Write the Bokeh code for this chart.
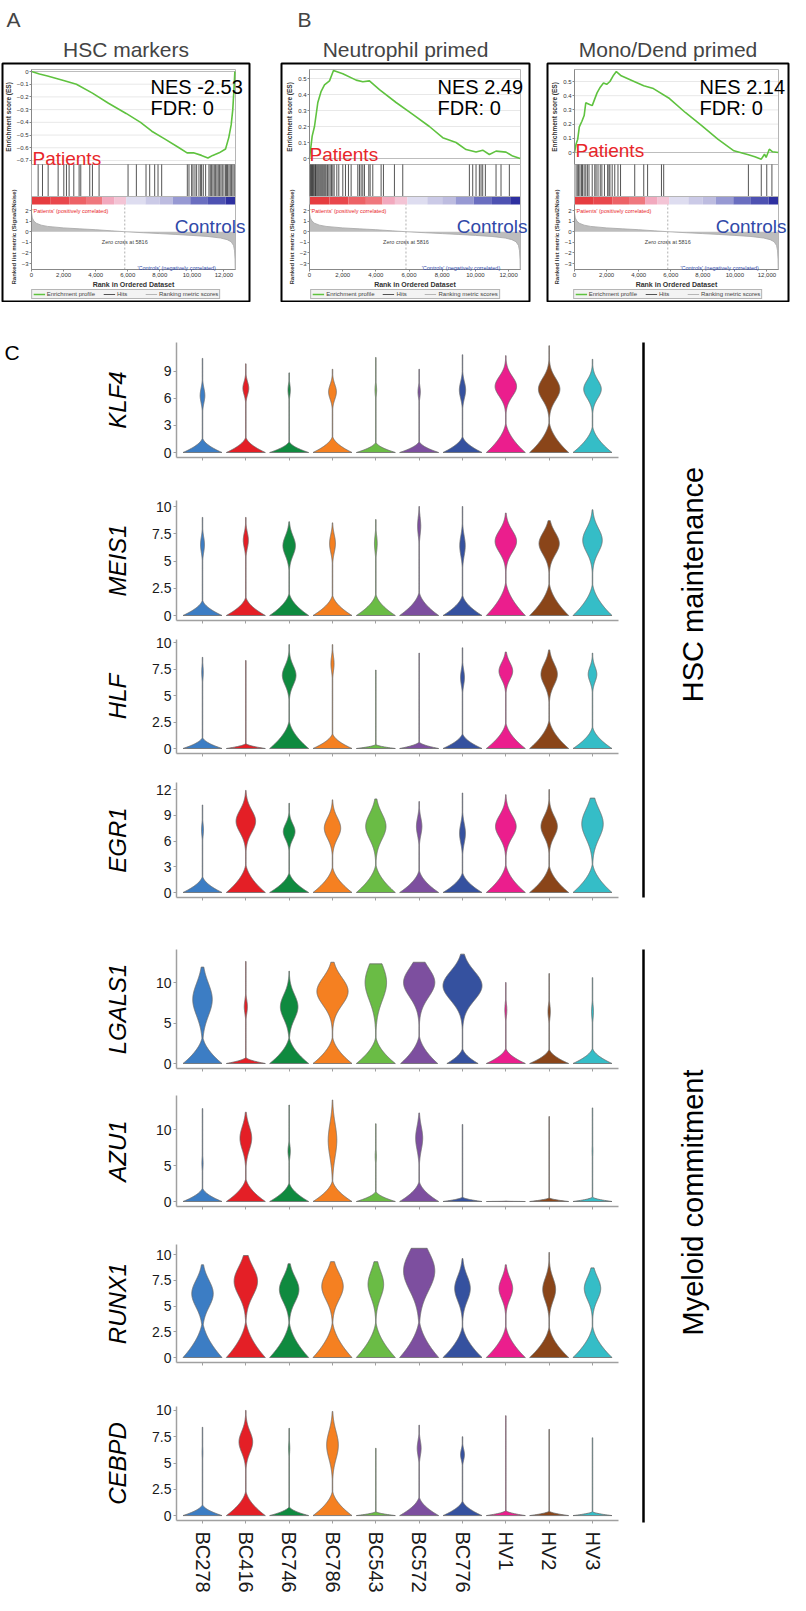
import numpy as np
from math import pi
from bokeh.plotting import figure
from bokeh.layouts import column, row
from bokeh.models import (Range1d, Label, Title, FixedTicker, NumeralTickFormatter,
                          LinearAxis, Legend, LegendItem, Spacer)
from bokeh.embed import file_html
from bokeh.resources import INLINE
from bokeh.core.properties import value

FONT = "Liberation Sans"

# ======================= DATA: GSEA =======================
RANK_MAX = 12720
ZERO_CROSS = 5816
METRIC_RANK = [0, 50, 150, 300, 600, 1000, 2000, 3000, 4000, 5000, 5816, 7000, 8000,
               9000, 10000, 11000, 11800, 12200, 12450, 12600, 12660, 12690, 12700]
METRIC_VAL = [1.8, 1.3, 1.0, 0.8, 0.62, 0.5, 0.36, 0.27, 0.19, 0.08, 0.0, -0.1, -0.18,
              -0.26, -0.35, -0.45, -0.6, -0.75, -0.95, -1.3, -1.8, -2.6, -3.5]
CB_EDGES = [0, 1200, 2350, 3400, 4400, 5150, 5900, 7100, 8000, 8800, 9900, 11000, 12100, 12700]
CB_COLORS = ["#E63C3F", "#E9474C", "#ED6266", "#EF787E", "#F2A9BE", "#F3C4D5", "#DEDDF0",
             "#CBCAE7", "#BDBCE0", "#9799D3", "#6A6EC0", "#4E52B2", "#2E30A0"]

GSEA_TITLES = ["HSC markers", "Neutrophil primed", "Mono/Dend primed"]
GSEA_LETTERS = ["A", "B", None]
GSEA_NES = ["-2.53", "2.49", "2.14"]
GSEA_FDR = ["0", "0", "0"]

ES_A_RANK = [0, 500, 1000, 2000, 2800, 3800, 4800, 5900, 6800, 7500, 8300, 9200, 9700, 10100,
             10600, 11000, 11300, 11700, 12100, 12300, 12450, 12550, 12620, 12680]
ES_A = [0.0, -0.02, -0.035, -0.07, -0.1, -0.17, -0.25, -0.33, -0.4, -0.47, -0.53, -0.6, -0.64,
        -0.64, -0.66, -0.68, -0.66, -0.64, -0.61, -0.52, -0.42, -0.3, -0.15, 0.0]
HITS_A = [415, 685, 1038, 1661, 2014, 2180, 2346, 2637, 2969, 3072, 3633, 3799, 4214, 6020, 6539,
          7141, 7370, 7681, 7889, 8117, 9716, 9819, 9986, 10069, 10193, 10297, 10442, 10546,
          10608, 10712, 10858, 11065, 11148, 11231, 11314, 11397, 11480, 11563, 11646, 11729,
          11812, 11896, 11999, 12103, 12165, 12227, 12311, 12394, 12477, 12560, 12643]

ES_B_RANK = [0, 161, 301, 502, 703, 904, 1205, 1446, 2008, 2811, 3213, 3614, 4217, 5221, 6225,
             7229, 8032, 8835, 9438, 10040, 10442, 10843, 11245, 11847, 12249, 12700]
ES_B = [0.0, 0.14, 0.2, 0.35, 0.42, 0.46, 0.485, 0.55, 0.53, 0.49, 0.48, 0.485, 0.43, 0.35,
        0.276, 0.2, 0.13, 0.1, 0.056, 0.04, 0.052, 0.025, 0.046, 0.04, 0.015, 0.0]
HITS_B = [40, 80, 120, 181, 221, 261, 321, 361, 402, 462, 522, 582, 643, 703, 763, 823, 884, 944,
          1004, 1084, 1165, 1245, 1325, 1406, 1486, 1647, 1767, 2008, 2169, 2349, 2510, 2912,
          3012, 3112, 3213, 3313, 3574, 3655, 3815, 4317, 4458, 5120, 5622, 9638, 9839, 10040,
          10241, 10341, 10442, 10602, 11245, 11546, 12048]

ES_C_RANK = [0, 100, 201, 301, 462, 602, 703, 904, 1104, 1205, 1406, 1606, 1807, 2008, 2209,
             2410, 2610, 2912, 3715, 4317, 4920, 5924, 6928, 7932, 8936, 9940, 10843, 11245,
             11646, 11847, 11948, 12148, 12349, 12700]
ES_C = [0.0, 0.06, 0.094, 0.18, 0.22, 0.26, 0.35, 0.34, 0.33, 0.36, 0.42, 0.46, 0.49, 0.48, 0.5,
        0.54, 0.57, 0.54, 0.5, 0.47, 0.45, 0.38, 0.28, 0.19, 0.094, 0.012, -0.016, -0.03,
        -0.047, -0.012, -0.035, 0.023, 0.005, 0.0]
HITS_C = [100, 201, 261, 341, 442, 502, 602, 703, 803, 904, 1104, 1265, 1345, 1466, 1606, 1707,
          1867, 2068, 2149, 2209, 2349, 2510, 2711, 2871, 3755, 4317, 4558, 5422, 5562, 10843,
          11646, 11988, 12309]

# ======================= DATA: violins =======================
SAMPLES = ["BC278", "BC416", "BC746", "BC786", "BC543", "BC572", "BC776", "HV1", "HV2", "HV3"]
SAMPLE_COLORS = ["#3C7DC4", "#E41F26", "#0F8A3F", "#F58021", "#6ABC45", "#7D4F9F", "#35519F",
                 "#EB1E8D", "#8A4519", "#35BDC7"]
GENES = ["KLF4", "MEIS1", "HLF", "EGR1", "LGALS1", "AZU1", "RUNX1", "CEBPD"]
GENE_TICKS = [[0, 3, 6, 9], [0, 2.5, 5, 7.5, 10], [0, 2.5, 5, 7.5, 10], [0, 3, 6, 9, 12],
              [0, 5, 10], [0, 5, 10], [0, 2.5, 5, 7.5, 10], [0, 2.5, 5, 7.5, 10]]
# maximum expression (violin tip)
VMAX = [
    [10.4, 9.8, 8.8, 9.2, 10.5, 9.2, 10.8, 10.7, 11.8, 10.3],
    [9.0, 9.0, 8.6, 8.5, 8.8, 10.0, 10.0, 9.4, 8.7, 9.7],
    [8.6, 8.3, 9.8, 9.8, 7.4, 9.0, 9.5, 9.1, 9.3, 9.0],
    [10.2, 11.9, 10.4, 10.8, 10.9, 10.6, 11.6, 11.4, 12.0, 11.0],
    [11.9, 12.6, 11.4, 12.5, 12.3, 12.5, 13.5, 10.0, 11.1, 10.6],
    [12.9, 12.4, 13.4, 14.1, 10.8, 12.3, 10.7, 0.05, 11.8, 13.0],
    [9.0, 9.9, 9.1, 9.3, 9.3, 10.6, 9.6, 9.0, 10.2, 8.7],
    [8.4, 10.0, 8.3, 9.9, 6.4, 8.6, 7.5, 9.5, 8.2, 7.4],
]
# relative width of the zero bulb
LOW_W = [
    [1.0] * 10, [1.0] * 10, [1.0] * 10, [1.0] * 10,
    [1.0, 1.0, 1.0, 1.0, 1.0, 0.95, 0.8, 1.0, 1.0, 1.0],
    [1.0] * 10, [1.0] * 10, [1.0] * 10,
]
# height of the zero bulb
LOW_H = [
    [1.7, 1.8, 1.3, 1.9, 1.2, 1.3, 1.9, 3.5, 3.6, 3.1],
    [1.5, 1.8, 2.2, 2.0, 2.1, 2.3, 2.0, 3.3, 3.2, 3.1],
    [1.1, 0.5, 2.8, 1.5, 0.4, 0.65, 1.5, 2.6, 2.9, 2.2],
    [2.0, 3.5, 2.5, 3.2, 3.5, 2.8, 2.5, 3.5, 3.4, 3.6],
    [3.6, 0.8, 3.5, 3.5, 3.5, 3.7, 2.0, 2.0, 1.9, 2.0],
    [2.0, 3.4, 2.8, 3.1, 1.5, 3.0, 0.65, 0.04, 0.55, 0.65],
    [3.8, 3.8, 3.7, 3.7, 3.7, 3.9, 3.3, 3.3, 3.2, 3.3],
    [1.1, 2.5, 0.9, 2.5, 0.4, 1.9, 1.5, 0.5, 0.45, 0.4],
]
# centre of the expressing mode
UP_M = [
    [6.3, 7.1, 6.9, 6.7, 6.9, 6.7, 6.9, 7.3, 7.0, 7.0],
    [6.5, 6.9, 6.4, 6.6, 6.6, 8.2, 6.4, 6.8, 6.6, 6.9],
    [7.2, 0.0, 6.9, 8.0, 0.0, 0.0, 6.7, 7.3, 7.0, 7.0],
    [7.3, 8.3, 7.1, 7.5, 7.7, 7.7, 6.9, 7.7, 7.7, 8.0],
    [7.9, 7.0, 7.0, 8.9, 10.0, 10.0, 9.6, 6.6, 6.4, 6.4],
    [5.3, 8.8, 7.0, 8.5, 6.3, 8.8, 0.0, 0.0, 0.0, 7.0],
    [6.2, 7.4, 6.6, 6.9, 7.1, 8.4, 6.7, 6.7, 6.6, 6.7],
    [6.0, 7.0, 6.4, 6.7, 0.0, 6.4, 5.8, 0.0, 0.0, 0.0],
]
# relative width of the expressing mode
UP_W = [
    [0.12, 0.15, 0.06, 0.2, 0.04, 0.06, 0.16, 0.55, 0.55, 0.45],
    [0.1, 0.13, 0.32, 0.15, 0.07, 0.08, 0.14, 0.55, 0.52, 0.5],
    [0.04, 0.0, 0.35, 0.08, 0.0, 0.0, 0.1, 0.35, 0.42, 0.22],
    [0.05, 0.5, 0.3, 0.42, 0.52, 0.14, 0.15, 0.53, 0.42, 0.55],
    [0.5, 0.08, 0.45, 0.8, 0.55, 0.8, 1.0, 0.05, 0.06, 0.05],
    [0.03, 0.3, 0.06, 0.22, 0.03, 0.18, 0.0, 0.0, 0.0, 0.02],
    [0.55, 0.6, 0.5, 0.55, 0.4, 0.8, 0.4, 0.35, 0.33, 0.42],
    [0.02, 0.35, 0.03, 0.3, 0.0, 0.1, 0.1, 0.0, 0.0, 0.0],
]
# spread of the expressing mode
UP_S = [
    [0.8, 0.7, 0.6, 0.8, 0.6, 0.6, 0.9, 1.1, 1.2, 1.0],
    [0.7, 0.7, 0.9, 0.8, 0.7, 0.8, 0.9, 1.0, 1.0, 1.1],
    [0.6, 0.5, 0.9, 0.7, 0.5, 0.5, 0.7, 0.8, 1.0, 0.7],
    [0.7, 1.3, 0.9, 1.2, 1.5, 1.0, 1.1, 1.3, 1.2, 1.7],
    [2.0, 0.8, 1.5, 1.7, 2.2, 1.8, 1.8, 0.8, 0.8, 0.8],
    [0.8, 1.6, 0.8, 2.3, 0.8, 1.6, 0.5, 0.5, 0.5, 0.8],
    [1.3, 1.4, 1.2, 1.3, 1.3, 1.9, 1.2, 1.0, 1.1, 1.1],
    [0.6, 1.0, 0.6, 1.3, 0.5, 0.7, 0.5, 0.5, 0.5, 0.5],
]
GROUPS = ["HSC maintenance", "Myeloid commitment"]

# ======================= helpers =======================
def blank(w, h, xr, yr, bg="white"):
    p = figure(width=w, height=h, x_range=xr, y_range=yr, toolbar_location=None,
               output_backend="svg", x_axis_location=None, y_axis_location=None,
               min_border=0, outline_line_color=None,
               background_fill_color=bg, border_fill_color=bg)
    p.grid.visible = False
    return p


def txt(x, y, s, size, color="black", align="left", style="normal", baseline="alphabetic",
        x_offset=0, y_range_name="default"):
    return Label(x=x, y=y, text=s, text_font=FONT, text_font_size=size, text_color=color,
                 text_align=align, text_font_style=style, text_baseline=baseline,
                 x_offset=x_offset, y_range_name=y_range_name)


def small_axis(ax, fs="6px"):
    ax.major_label_text_font = FONT
    ax.major_label_text_font_size = fs
    ax.major_label_text_color = "#333333"
    ax.axis_label_text_font = FONT
    ax.axis_label_text_font_size = "6.5px"
    ax.axis_label_text_font_style = "bold"
    ax.axis_label_text_color = "#333333"
    ax.axis_line_color = "#888888"
    ax.major_tick_line_color = "#888888"
    ax.major_tick_out = 2
    ax.major_tick_in = 0
    ax.minor_tick_out = 0
    ax.minor_tick_in = 0
    ax.major_label_standoff = 1
    ax.axis_label_standoff = 2


GREEN = "#5FC23F"
RED = "#E8262A"
BLUE = "#3049A8"

# page-pixel layout of the three GSEA boxes
PANEL_CFG = [
    dict(x0=8, W=251, r0=39, r1=243, z=79, ppu=127.1,
         ticks=[-0.7, -0.6, -0.5, -0.4, -0.3, -0.2, -0.1, 0.0],
         nes_x=158, pat_x=40, pat_y=166, ctrl_r=253),
    dict(x0=287, W=252, r0=317, r1=528, z=166, ppu=160.0,
         ticks=[0.0, 0.1, 0.2, 0.3, 0.4, 0.5],
         nes_x=445, pat_x=317, pat_y=162, ctrl_r=535),
    dict(x0=553, W=245, r0=582, r1=786, z=160, ppu=142.0,
         ticks=[0.0, 0.1, 0.2, 0.3, 0.4, 0.5],
         nes_x=707, pat_x=583, pat_y=158, ctrl_r=794),
]
FT, FB = 71, 309            # page y of box top / bottom
MET_Z, MET_PPU = 218, 10.6  # page y of metric 2.0 and px per unit


def gsea_panel(i, es_rank, es_val, hits):
    c = PANEL_CFG[i]
    W, x0 = c["W"], c["x0"]
    fl, fr = x0 + 2, x0 + W - 2
    k = (c["r1"] - c["r0"]) / RANK_MAX

    def rx(px):
        return (px - c["r0"]) / k

    def es_at(py):
        return (c["z"] - py) / c["ppu"]

    def met_at(py):
        return 2.0 + (MET_Z - py) / MET_PPU

    p = figure(width=W, height=302, x_range=Range1d(rx(fl), rx(fr)),
               y_range=Range1d(es_at(FB), es_at(FT)), title=None, toolbar_location=None,
               output_backend="svg", x_axis_location=None, y_axis_location=None,
               min_border_left=2, min_border_right=2, min_border_top=FT - 8,
               min_border_bottom=310 - FB, outline_line_color="black", outline_line_width=2,
               background_fill_color="white", border_fill_color="white")
    p.grid.visible = False
    p.extra_y_ranges = {"metric": Range1d(met_at(FB), met_at(FT))}

    p.add_layout(Title(text=GSEA_TITLES[i], align="center", text_font=FONT,
                       text_font_size="21px", text_font_style="normal", standoff=6), "above")
    if GSEA_LETTERS[i]:
        p.add_layout(Title(text=GSEA_LETTERS[i], align="left", offset=4 if i == 0 else 16,
                           text_font=FONT, text_font_size="21px", text_font_style="normal",
                           standoff=3), "above")

    es_top, region, hits_bot = es_at(77), es_at(172), es_at(204)
    cb_top, cb_bot, met_bot = met_at(204), met_at(212), met_at(277)

    # sub-plot frames and grid
    p.segment(x0=0, y0=c["ticks"], x1=RANK_MAX, y1=c["ticks"], line_color="#E8E8E8",
              line_width=1)
    p.quad(left=0, right=RANK_MAX, bottom=region, top=es_top, fill_color=None,
           line_color="#B5B5B5", line_width=1)
    p.quad(left=0, right=RANK_MAX, bottom=hits_bot, top=region, fill_color=None,
           line_color="#B5B5B5", line_width=1)
    p.segment(x0=0, y0=0, x1=RANK_MAX, y1=0, line_color="#BDBDBD", line_width=1)

    # hits and running enrichment score
    r_hits = p.segment(x0=hits, y0=region, x1=hits, y1=hits_bot, line_color="#2A2A2A",
                       line_width=0.8)
    r_es = p.line(es_rank, es_val, line_color=GREEN, line_width=1.6)

    # colour bar + ranked list metric
    p.quad(left=CB_EDGES[:-1], right=CB_EDGES[1:], bottom=cb_bot, top=cb_top,
           fill_color=CB_COLORS, line_color=None, y_range_name="metric")
    p.varea(x=METRIC_RANK, y1=0, y2=METRIC_VAL, fill_color="#BDBDBD", y_range_name="metric")
    r_met = p.line(METRIC_RANK, METRIC_VAL, line_color="#A6A6A6", line_width=0.8,
                   y_range_name="metric")
    p.segment(x0=[ZERO_CROSS], y0=met_bot, x1=[ZERO_CROSS], y1=cb_bot, line_color="#9A9A9A",
              line_dash="2 2", line_width=0.8, y_range_name="metric")
    p.quad(left=0, right=RANK_MAX, bottom=met_bot, top=cb_top, fill_color=None,
           line_color="#B5B5B5", line_width=1, y_range_name="metric")

    # axes drawn inside the box
    ax_es = LinearAxis(fixed_location=0, ticker=FixedTicker(ticks=c["ticks"]),
                       bounds=(region, es_top), axis_label="Enrichment score (ES)")
    small_axis(ax_es)
    p.add_layout(ax_es, "left")
    ax_m = LinearAxis(fixed_location=0, y_range_name="metric",
                      ticker=FixedTicker(ticks=[-3, -2, -1, 0, 1, 2]),
                      bounds=(met_bot, cb_bot), axis_label="Ranked list metric (Signal2Noise)")
    small_axis(ax_m)
    ax_m.axis_label_text_font_size = "6px"
    p.add_layout(ax_m, "left")
    ax_x = LinearAxis(fixed_location=es_at(277),
                      ticker=FixedTicker(ticks=[0, 2000, 4000, 6000, 8000, 10000, 12000]),
                      formatter=NumeralTickFormatter(format="0,0"), bounds=(0, RANK_MAX),
                      axis_label="Rank in Ordered Dataset")
    small_axis(ax_x)
    ax_x.axis_label_text_font_size = "7px"
    ax_x.axis_label_standoff = 1
    p.add_layout(ax_x, "below")

    # texts
    p.add_layout(txt(rx(c["nes_x"]), es_at(94), "NES  " + GSEA_NES[i], "20px"))
    p.add_layout(txt(rx(c["nes_x"]), es_at(115), "FDR: " + GSEA_FDR[i], "20px"))
    p.add_layout(txt(rx(c["pat_x"]), es_at(c["pat_y"]), "Patients", "19px", color=RED))
    p.add_layout(txt(rx(c["ctrl_r"]), met_at(234), "Controls", "19px", color=BLUE,
                     align="right", y_range_name="metric"))
    p.add_layout(txt(rx(c["r0"] + 1), met_at(218.5), "'Patients' (positively correlated)",
                     "5.5px", color=RED, y_range_name="metric"))
    p.add_layout(txt(ZERO_CROSS, met_at(249), "Zero cross at %d" % ZERO_CROSS, "5.5px",
                     color="#444444", align="center", y_range_name="metric"))
    p.add_layout(txt(11500, met_at(275), "'Controls' (negatively correlated)", "5.5px",
                     color=BLUE, align="right", y_range_name="metric"))

    leg = Legend(items=[LegendItem(label="Enrichment profile", renderers=[r_es]),
                        LegendItem(label="Hits", renderers=[r_hits]),
                        LegendItem(label="Ranking metric scores", renderers=[r_met])],
                 orientation="horizontal", location="bottom_center", label_text_font=FONT,
                 label_text_font_size="6px", glyph_height=6, glyph_width=12,
                 label_height=6, label_standoff=2, padding=1, spacing=8, margin=2,
                 background_fill_color="#F2F2F2", border_line_color="#777777")
    p.add_layout(leg)
    return p


top = row(gsea_panel(0, ES_A_RANK, ES_A, HITS_A), Spacer(width=28, height=302),
          gsea_panel(1, ES_B_RANK, ES_B, HITS_B), Spacer(width=14, height=302),
          gsea_panel(2, ES_C_RANK, ES_C, HITS_C))

# ======================= violins =======================
HALF = 0.45
NECK = 0.012


def violin_xy(xc, vmax, lw, lh, um, uw, us):
    y = np.linspace(0.0, vmax, 260)
    low = lw * np.clip(1.0 - y / lh, 0.0, None) ** 1.8
    up = uw * np.exp(-0.5 * ((y - um) / us) ** 2)
    w = np.maximum(np.maximum(low, up), NECK) * HALF
    return (np.concatenate([xc - w, (xc + w)[::-1]]), np.concatenate([y, y[::-1]]))


# page positions of each violin frame and figure boundaries
FRAME_TOP = [350, 508, 647, 790, 957, 1103, 1252, 1414]
FRAME_BOT = [465, 628, 761, 905, 1076, 1214, 1370, 1530]
ZERO_PX = [460, 623, 756, 900, 1071, 1209, 1365, 1525]
PX_PER_UNIT = [9.05, 10.9, 10.6, 8.58, 8.1, 7.2, 10.3, 10.7]
BOUNDS = [310, 486, 637, 775, 930, 1090, 1232, 1392, 1603]
LABEL_STANDOFF = [30, 18, 18, 22, 22, 22, 18, 18]
LEFT_W = 52

vfigs = []
for g, gene in enumerate(GENES):
    ppu = PX_PER_UNIT[g]
    ys = -(FRAME_BOT[g] - ZERO_PX[g]) / ppu
    ye = (ZERO_PX[g] - FRAME_TOP[g]) / ppu
    h = BOUNDS[g + 1] - BOUNDS[g]
    p = figure(width=622 - LEFT_W, height=h, x_range=Range1d(-0.6, 9.6),
               y_range=Range1d(ys, ye), toolbar_location=None, output_backend="svg",
               min_border_left=176 - LEFT_W, min_border_right=4,
               min_border_top=FRAME_TOP[g] - BOUNDS[g],
               min_border_bottom=BOUNDS[g + 1] - FRAME_BOT[g],
               outline_line_color=None, background_fill_color="white",
               border_fill_color="white")
    p.grid.visible = False
    xs_list, ys_list = [], []
    for s in range(len(SAMPLES)):
        xx, yy = violin_xy(s, VMAX[g][s], LOW_W[g][s], LOW_H[g][s], UP_M[g][s],
                           UP_W[g][s], UP_S[g][s])
        xs_list.append(xx)
        ys_list.append(yy)
    p.patches(xs_list, ys_list, fill_color=SAMPLE_COLORS, line_color="#6A6A6A",
              line_width=0.8)
    for ax in (p.xaxis[0], p.yaxis[0]):
        ax.axis_line_color = "#A0A0A0"
        ax.axis_line_width = 1.5
        ax.major_tick_line_color = "#A0A0A0"
        ax.major_tick_out = 3
        ax.major_tick_in = 0
        ax.minor_tick_out = 0
        ax.minor_tick_in = 0
        ax.major_label_text_font = FONT
        ax.major_label_text_color = "#1A1A1A"
    ya = p.yaxis[0]
    ya.ticker = FixedTicker(ticks=GENE_TICKS[g])
    ya.major_label_overrides = {t: "%g" % t for t in GENE_TICKS[g]}
    ya.major_label_text_font_size = "14px"
    ya.major_label_standoff = 2
    ya.axis_label = gene
    ya.axis_label_text_font = FONT
    ya.axis_label_text_font_style = "italic"
    ya.axis_label_text_font_size = "24px"
    ya.axis_label_text_color = "black"
    ya.axis_label_standoff = LABEL_STANDOFF[g]
    xa = p.xaxis[0]
    xa.ticker = FixedTicker(ticks=list(range(len(SAMPLES))))
    if g == len(GENES) - 1:
        xa.major_label_overrides = {i: s for i, s in enumerate(SAMPLES)}
        xa.major_label_orientation = "vertical"
        xa.major_label_text_font_size = "20px"
        xa.major_label_standoff = 8
    else:
        xa.major_label_overrides = {i: "" for i in range(len(SAMPLES))}
        xa.major_label_text_font_size = "0px"
        xa.major_label_standoff = 0
    vfigs.append(p)

violin_col = column(*vfigs)

# left strip with the panel letter (page coordinates, y negated)
lf = blank(LEFT_W, 1293, Range1d(8, 8 + LEFT_W), Range1d(-1603, -310))
lf.add_layout(txt(12, -360, "C", "21px"))

# right-hand bracket figure (page coordinates, y negated)
rf = blank(168, 1293, Range1d(630, 798), Range1d(-1603, -310))
rf.segment(x0=[651, 651], y0=[-350, -957], x1=[651, 651], y1=[-905, -1530],
           line_color="black", line_width=2.5)
rf.text(x=[700, 700], y=[-592, -1210], text=GROUPS, angle=pi / 2, text_align="center",
        text_baseline="middle", text_font=value(FONT), text_font_size="29px",
        text_color="black")

layout = column(top, row(lf, violin_col, rf))

open("out.html", "w").write(file_html(layout, INLINE))
